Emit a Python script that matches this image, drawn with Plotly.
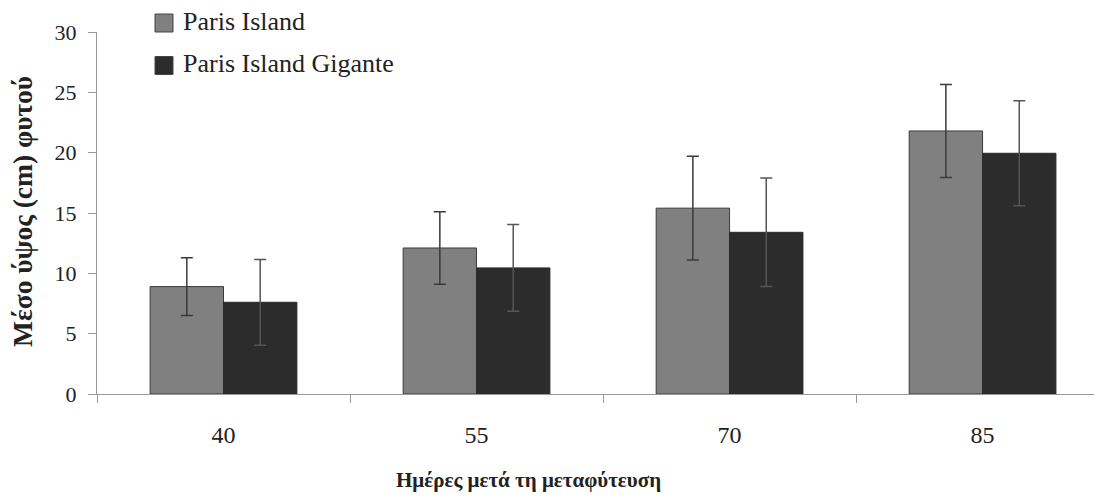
import plotly.graph_objects as go

days = ["40", "55", "70", "85"]
series_names = ["Paris Island", "Paris Island Gigante"]
paris_island = [8.9, 12.1, 15.4, 21.8]
paris_island_err = [2.4, 3.0, 4.3, 3.85]
paris_gigante = [7.6, 10.45, 13.4, 19.95]
paris_gigante_err = [3.55, 3.6, 4.5, 4.35]
y_ticks = [0, 5, 10, 15, 20, 25, 30]
colors = ["#808080", "#2c2c2c"]

FONT = "Liberation Serif"

# page body has an 8px margin; work in window coordinates
OFF = 8
PL, PT, PB = 97, 32, 394          # plot left / top / bottom in window px
W, H = 1102 - OFF, 500 - OFF
PW = 1102 - PL
PH = PB - PT

def px(xw):
    return (xw - PL) / PW

def py(yw):
    return (PB - yw) / PH

fig = go.Figure()
fig.add_trace(go.Bar(
    name=series_names[0], x=days, y=paris_island, showlegend=False,
    marker=dict(color=colors[0], line=dict(color="#3a3a3a", width=1)),
    error_y=dict(type="data", array=paris_island_err, visible=True,
                 color="#3a3a3a", thickness=1.5, width=6),
))
fig.add_trace(go.Bar(
    name=series_names[1], x=days, y=paris_gigante, showlegend=False,
    marker=dict(color=colors[1], line=dict(color="#2a2a2a", width=1)),
    error_y=dict(type="data", array=paris_gigante_err, visible=True,
                 color="#555555", thickness=1.5, width=6),
))

fig.update_layout(
    width=W, height=H,
    margin=dict(l=PL - OFF, r=0, t=PT - OFF, b=H - (PB - OFF), autoexpand=False),
    paper_bgcolor="white", plot_bgcolor="white",
    barmode="group", bargap=0.42, bargroupgap=0,
    font=dict(family=FONT, size=22, color="#222"),
    showlegend=False,
    xaxis=dict(type="category", range=[-0.5, 3.472], tickson="boundaries",
               ticks="outside", ticklen=8, tickcolor="#999", automargin=False,
               showline=True, linecolor="#999", linewidth=1,
               ticklabelstandoff=19, showgrid=False,
               tickfont=dict(family=FONT, size=24, color="#222")),
    yaxis=dict(range=[0, 30], tickvals=y_ticks, ticks="outside", ticklen=8,
               tickcolor="#999", showline=True, linecolor="#999", linewidth=1,
               showgrid=False, zeroline=False, ticklabelstandoff=7, automargin=False,
               tickfont=dict(family=FONT, size=22, color="#222")),
)

# legend drawn manually (large squares as in the reference)
leg_rows = [23, 65.5]
for name, col, yc in zip(series_names, colors, leg_rows):
    fig.add_shape(type="rect", xref="paper", yref="paper",
                  x0=px(155), x1=px(173), y0=py(yc + 9), y1=py(yc - 9),
                  fillcolor=col, line=dict(color="#444", width=1))
    fig.add_annotation(text=name, xref="paper", yref="paper",
                       x=px(181), y=py(yc - 2), xanchor="left", yanchor="middle",
                       showarrow=False, font=dict(family=FONT, size=26, color="#222"))

fig.add_annotation(text="<b>Ημέρες μετά τη μεταφύτευση</b>", xref="paper", yref="paper",
                   x=px(528), y=py(480), xanchor="center", yanchor="middle",
                   showarrow=False, font=dict(family=FONT, size=21, color="#222"))
fig.add_annotation(text="<b>Μέσο ύψος (cm) φυτού</b>", xref="paper", yref="paper",
                   x=px(23), y=py(212), xanchor="center", yanchor="middle",
                   textangle=-90, showarrow=False, font=dict(family=FONT, size=27.5, color="#222"))

fig.write_html("out.html")
